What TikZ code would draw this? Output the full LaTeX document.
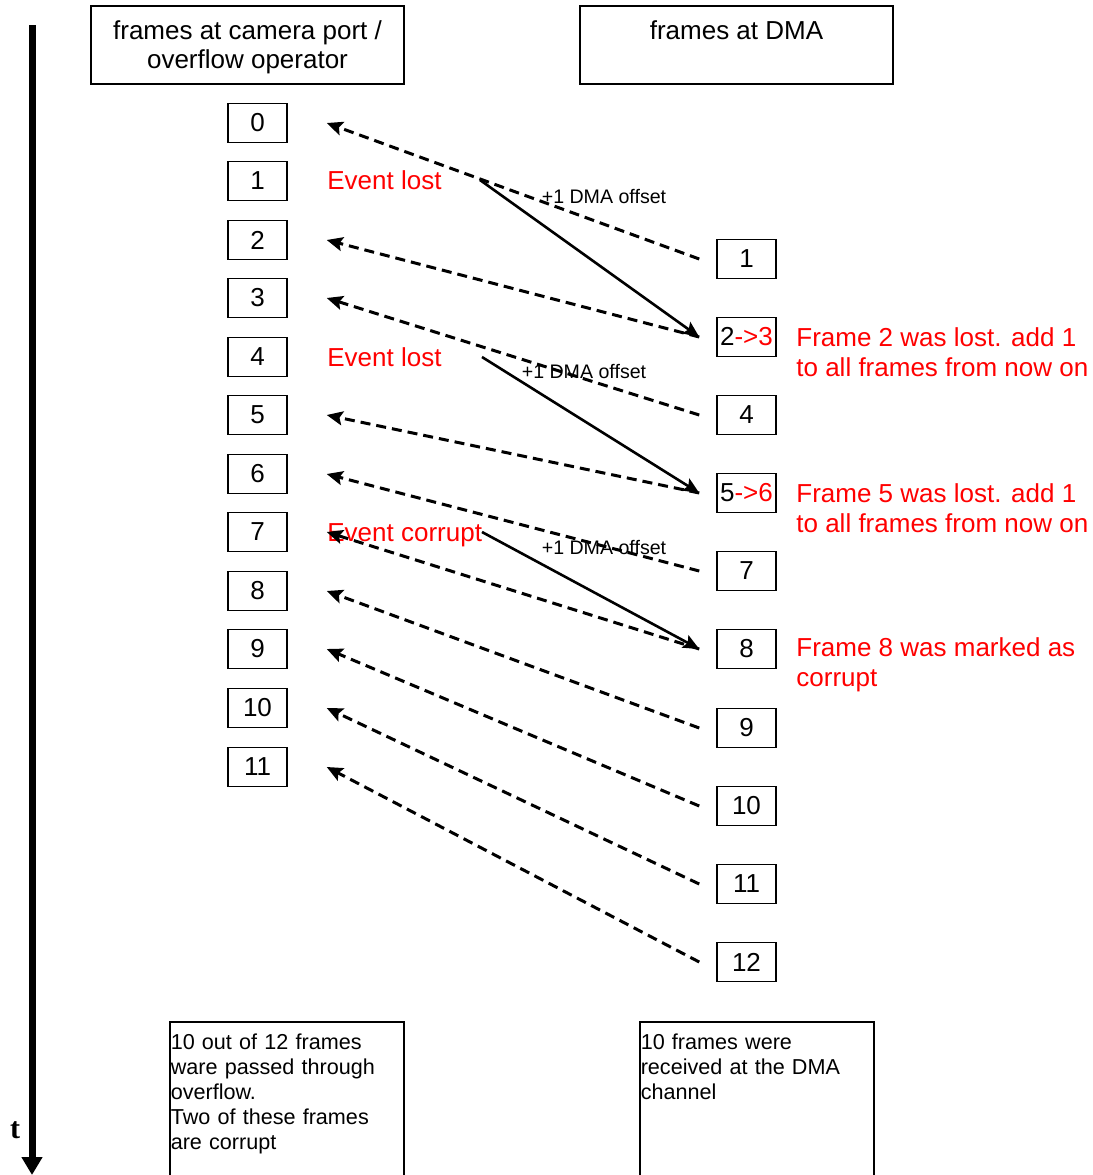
\documentclass[tikz,border=0pt]{standalone}
\usepackage{fontspec}
\setmainfont{Liberation Sans}
\newfontfamily\serifface{Liberation Serif}
\usetikzlibrary{arrows.meta}

\tikzset{
  numbox/.style={draw, line width=0.75pt, minimum width=29.5pt, minimum height=19.5pt, inner sep=0pt, font=\fontsize{13}{15}\selectfont},
  hdrbox/.style={draw, line width=0.75pt, minimum width=156.5pt, minimum height=39pt, inner sep=2pt, align=center, font=\fontsize{13}{14.5}\selectfont},
  notebox/.style={draw, line width=0.75pt, anchor=north west, inner xsep=0.5pt, inner ysep=6pt, text width=116pt, align=left, text depth=70pt, font=\fontsize{10.8}{12.5}\selectfont},
  eventtext/.style={anchor=west, inner sep=0pt, text=red, font=\fontsize{13}{15}\selectfont},
  notetext/.style={anchor=west, inner sep=0pt, text=red, align=left, font=\fontsize{13}{15}\selectfont},
  offsettext/.style={inner sep=0pt, font=\fontsize{9.8}{12}\selectfont},
  readarrow/.style={line width=1.5pt, dash pattern=on 5pt off 3pt, -{Stealth[length=8pt,width=7pt,inset=1.5pt]}},
  lostarrow/.style={line width=1.3pt, -{Stealth[length=8pt,width=7pt,inset=1.5pt]}},
  timearrow/.style={line width=3.5pt, -{Triangle[length=9pt,width=10pt]}}
}

\begin{document}
\begin{tikzpicture}[x=0.5pt,y=0.5pt,yscale=-1]
	\useasboundingbox (0,0) rectangle (1093,1175);
	% time axis
	\coordinate (tstart) at (32,25);
	\coordinate (tend) at (32,1175);
	\draw[timearrow] (tstart) -- (tend);
	\node (tlabel) at (15,1130) {\serifface\bfseries\fontsize{15}{17}\selectfont t};
	% headers
	\node[hdrbox, text height=26.5pt] (hcam) at (247.5,45) {frames at camera port /\\overflow operator};
	\node[hdrbox, text depth=14.5pt] (hdma) at (736.5,45) {frames at DMA};
	% frames at camera port
	\node[numbox] (f0) at (257.5,123) {0};
	\node[numbox] (f1) at (257.5,181) {1};
	\node[numbox] (f2) at (257.5,240) {2};
	\node[numbox] (f3) at (257.5,298) {3};
	\node[numbox] (f4) at (257.5,357) {4};
	\node[numbox] (f5) at (257.5,415) {5};
	\node[numbox] (f6) at (257.5,474) {6};
	\node[numbox] (f7) at (257.5,532) {7};
	\node[numbox] (f8) at (257.5,591) {8};
	\node[numbox] (f9) at (257.5,649) {9};
	\node[numbox] (f10) at (257.5,708) {10};
	\node[numbox] (f11) at (257.5,767) {11};
	% frames at DMA
	\node[numbox] (r1) at (746.5,259) {1};
	\node[numbox] (r2) at (746.5,337) {2\textcolor{red}{->3}};
	\node[numbox] (r4) at (746.5,415) {4};
	\node[numbox] (r5) at (746.5,493) {5\textcolor{red}{->6}};
	\node[numbox] (r7) at (746.5,571) {7};
	\node[numbox] (r8) at (746.5,649) {8};
	\node[numbox] (r9) at (746.5,728) {9};
	\node[numbox] (r10) at (746.5,806) {10};
	\node[numbox] (r11) at (746.5,884) {11};
	\node[numbox] (r12) at (746.5,962) {12};
	% events
	\node[eventtext] (lost1) at (327,180) {Event lost};
	\node[eventtext] (lost2) at (327,357) {Event lost};
	\node[eventtext] (corrupt) at (327,535) {Event corrupt};
	\node[notetext] (note2) at (796,352) {Frame 2 was lost. add 1\\to all frames from now on};
	\node[notetext] (note5) at (796,508) {Frame 5 was lost. add 1\\to all frames from now on};
	\node[notetext] (note8) at (796,665) {Frame 8 was marked as\\corrupt};
	% read back arrows
	\draw[readarrow] ([xshift=-8.5pt]r1.west) -- ([xshift=19.5pt]f0.east);
	\draw[readarrow] ([xshift=-8.5pt]r2.west) -- ([xshift=19.5pt]f2.east);
	\draw[readarrow] ([xshift=-8.5pt]r4.west) -- ([xshift=19.5pt]f3.east);
	\draw[readarrow] ([xshift=-8.5pt]r5.west) -- ([xshift=19.5pt]f5.east);
	\draw[readarrow] ([xshift=-8.5pt]r7.west) -- ([xshift=19.5pt]f6.east);
	\draw[readarrow] ([xshift=-8.5pt]r8.west) -- ([xshift=19.5pt]f7.east);
	\draw[readarrow] ([xshift=-8.5pt]r9.west) -- ([xshift=19.5pt]f8.east);
	\draw[readarrow] ([xshift=-8.5pt]r10.west) -- ([xshift=19.5pt]f9.east);
	\draw[readarrow] ([xshift=-8.5pt]r11.west) -- ([xshift=19.5pt]f10.east);
	\draw[readarrow] ([xshift=-8.5pt]r12.west) -- ([xshift=19.5pt]f11.east);
	% offset arrows
	\coordinate (s1) at (480,180);
	\coordinate (s2) at (482,357);
	\coordinate (s3) at (482,532);
	\draw[lostarrow] (s1) -- ([xshift=-8.5pt]r2.west);
	\draw[lostarrow] (s2) -- ([xshift=-8.5pt]r5.west);
	\draw[lostarrow] (s3) -- ([xshift=-8.5pt]r8.west);
	\node[offsettext] (off1) at (604,196) {+1 DMA offset};
	\node[offsettext] (off2) at (584,371) {+1 DMA offset};
	\node[offsettext] (off3) at (604,547) {+1 DMA offset};
	% summaries
	\node[notebox] (sumcam) at (169,1021) {10 out of 12 frames\\ware passed through\\overflow.\\Two of these frames\\are corrupt};
	\node[notebox] (sumdma) at (639,1021) {10 frames were\\received at the DMA\\channel};
\end{tikzpicture}
\end{document}
